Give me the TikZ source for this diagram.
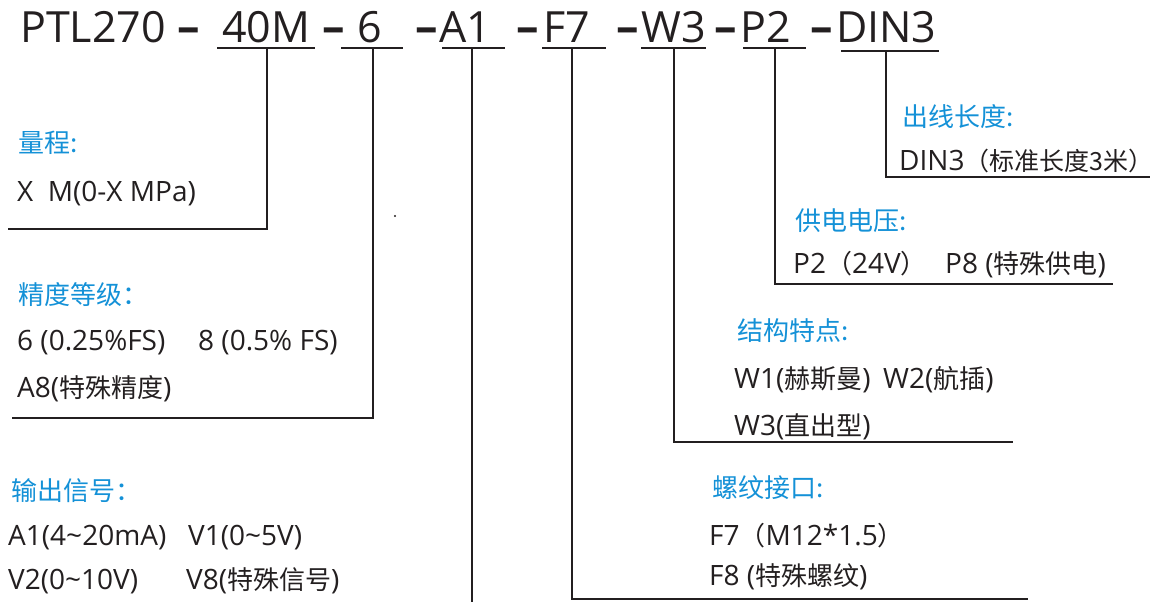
\documentclass[tikz,border=0pt]{standalone}
\usepackage{fontspec}
\setmainfont{Open Sans}
\newfontfamily\cjk{Noto Sans CJK SC}
\newcommand\zh[1]{{\fontsize{26}{26}\selectfont\cjk #1}}
\definecolor{ttl}{RGB}{20,145,215}
\definecolor{ink}{RGB}{35,31,32}
\begin{document}
\begin{tikzpicture}[x=1pt,y=-1pt,
  hdr/.style={anchor=base west,inner sep=0pt,font=\fontsize{43}{43}\selectfont,text=ink},
  dsh/.style={anchor=base west,inner sep=0pt,font=\fontsize{45}{45}\selectfont\bfseries,text=ink},
  ttlt/.style={anchor=base west,inner sep=0pt,font=\fontsize{26}{26}\selectfont\cjk,text=ttl},
  body/.style={anchor=base west,inner sep=0pt,font=\fontsize{28}{28}\selectfont,text=ink},
  ln/.style={draw=ink,line width=2pt},
  ul/.style={draw=ink,line width=1.8pt}]
\useasboundingbox (0,0) rectangle (1158,602);
% header
\node[hdr] (h1) at (20,42) {PTL270};
\node[dsh] (d1) at (177,42) {–};
\node[hdr] (h2) at (222,42) {40M};
\node[dsh] (d2) at (322,42) {–};
\node[hdr] (h3) at (357,42) {6};
\node[dsh] (d3) at (415,42) {–};
\node[hdr] (h4) at (439,42) {A1};
\node[dsh] (d4) at (516,42) {–};
\node[hdr] (h5) at (543,42) {F7};
\node[dsh] (d5) at (616,42) {–};
\node[hdr] (h6) at (641,42) {W3};
\node[dsh] (d6) at (714,42) {–};
\node[hdr] (h7) at (740,42) {P2};
\node[dsh] (d7) at (810,42) {–};
\node[hdr] (h8) at (836,42) {DIN3};
% underlines
\coordinate (u2a) at (217,48); \coordinate (u2b) at (315,48);
\coordinate (u3a) at (341,48); \coordinate (u3b) at (403,48);
\coordinate (u4a) at (442,48); \coordinate (u4b) at (505,48);
\coordinate (u5a) at (542,48); \coordinate (u5b) at (606,48);
\coordinate (u6a) at (641,48); \coordinate (u6b) at (706,48);
\coordinate (u7a) at (743,48); \coordinate (u7b) at (806,48);
\coordinate (u8a) at (841,51); \coordinate (u8b) at (939,51);
\foreach \i in {2,...,8} {\draw[ul] (u\i a) -- (u\i b);}
% connector start points
\coordinate (s2) at (267,48);
\coordinate (s3) at (373,48);
\coordinate (s4) at (472,48);
\coordinate (s5) at (572,48);
\coordinate (s6) at (674,48);
\coordinate (s7) at (775,48);
\coordinate (s8) at (886,51);
% connector ends
\coordinate (e2) at (8,229);
\coordinate (e3) at (12,418);
\coordinate (e4) at (472,602);
\coordinate (e5) at (1028,599);
\coordinate (e6) at (1013,442);
\coordinate (e7) at (1113,284);
\coordinate (e8) at (1150,177);
\draw[ln] (s2) |- (e2);
\draw[ln] (s3) |- (e3);
\draw[ln] (s4) -- (e4);
\draw[ln] (s5) |- (e5);
\draw[ln] (s6) |- (e6);
\draw[ln] (s7) |- (e7);
\draw[ln] (s8) |- (e8);
\fill[ink] (395,216) circle (1.2);
% left texts
\node[ttlt] (t1) at (18,152) {量程:};
\node[body] (b1) at (17,201) {X\ \ M(0-X MPa)};
\node[ttlt] (t2) at (18,304) {精度等级：};
\node[body] (b2a) at (17,350) {6 (0.25\%FS)};
\node[body] (b2b) at (198,350) {8 (0.5\% FS)};
\node[body] (b2c) at (17,397) {A8(\zh{特殊精度})};
\node[ttlt] (t3) at (11,500) {输出信号：};
\node[body] (b3a) at (8,545) {A1(4\textasciitilde 20mA)};
\node[body] (b3b) at (188,545) {V1(0\textasciitilde 5V)};
\node[body] (b3c) at (8,589) {V2(0\textasciitilde 10V)};
\node[body] (b3d) at (186,589) {V8(\zh{特殊信号})};
% right texts
\node[ttlt] (t4) at (902,126) {出线长度:};
\node[body] (b4) at (899,170) {DIN3{\fontsize{25}{25}\selectfont\cjk （标准长度3米）}};
\node[ttlt] (t5) at (795,230) {供电电压:};
\node[body] (b5a) at (793,273) {P2\zh{（}24V\zh{）}};
\node[body] (b5b) at (945,273) {P8 (\zh{特殊供电})};
\node[ttlt] (t6) at (737,340) {结构特点:};
\node[body] (b6a) at (734,388) {W1(\zh{赫斯曼})};
\node[body] (b6b) at (883,388) {W2(\zh{航插})};
\node[body] (b6c) at (734,435) {W3(\zh{直出型})};
\node[ttlt] (t7) at (712,497) {螺纹接口:};
\node[body] (b7a) at (709,545) {F7\zh{（}M12*1.5\zh{）}};
\node[body] (b7b) at (709,585) {F8 (\zh{特殊螺纹})};
\end{tikzpicture}
\end{document}
